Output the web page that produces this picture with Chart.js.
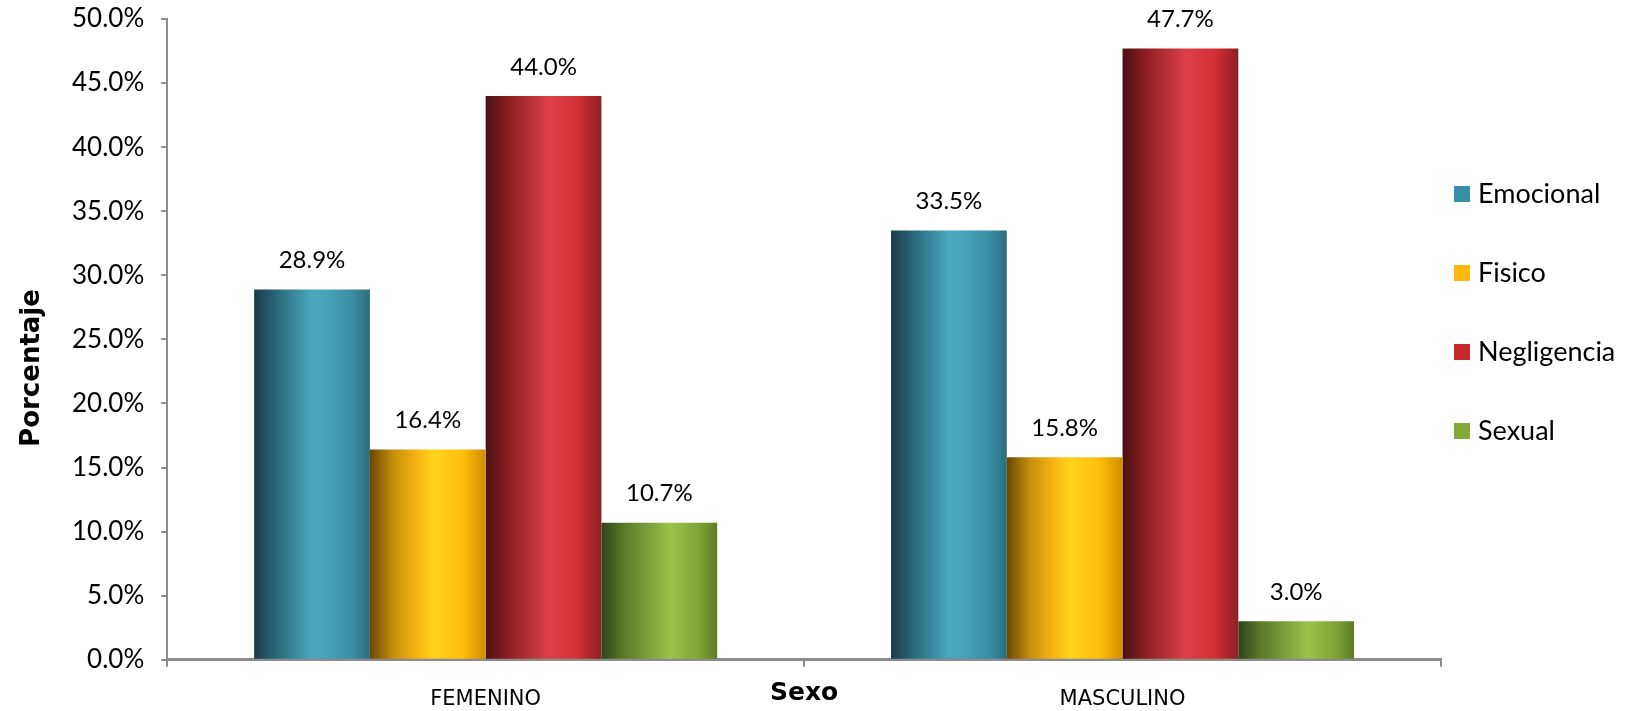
<!DOCTYPE html>
<html>
<head>
<meta charset="utf-8">
<title>Tipo de maltrato por sexo</title>
<script src="https://cdn.jsdelivr.net/npm/chart.js@4.4.1/dist/chart.umd.min.js"></script>
<style>
  html, body { margin: 0; padding: 0; background: #fff; }
  #wrap { width: 1647px; height: 711px; }
</style>
</head>
<body>
<div id="wrap"><canvas id="chart" width="1647" height="711"></canvas></div>
<script>
// Data
const categories = ['FEMENINO', 'MASCULINO'];
const seriesNames = ['Emocional', 'Fisico', 'Negligencia', 'Sexual'];
const emocional = [28.9, 33.5];
const fisico = [16.4, 15.8];
const negligencia = [44.0, 47.7];
const sexual = [10.7, 3.0];
const yMax = 50;
const yStep = 5;

// Colours: flat colour for the legend, stops for the bar shading
const legendColors = ['#3790a6', '#ffb80b', '#c42a2e', '#84a936'];
const gradientStops = [
    [[0, '#1a3a46'], [0.2, '#2a6a7b'], [0.5, '#4aa7bf'], [0.62, '#47a3bb'], [0.85, '#3a8ea4'], [1, '#2c6c7c']],
    [[0, '#6a4800'], [0.2, '#c58f0c'], [0.4, '#f7b313'], [0.55, '#ffd21e'], [0.8, '#ffbe0c'], [1, '#d08f00']],
    [[0, '#4a1012'], [0.2, '#8c1f23'], [0.55, '#de4046'], [0.8, '#d12f33'], [1, '#8a2024']],
    [[0, '#2f4418'], [0.2, '#5b7b2a'], [0.6, '#9cc24a'], [0.85, '#7fa236'], [1, '#5e7b27']]
];

const axisGrey = '#8c8c8c';
const textFont = 'Lato';

// Horizontal cylinder-like shading on each bar
const barShading = {
    id: 'barShading',
    beforeDatasetsDraw(chart) {
        const ctx = chart.ctx;
        chart.data.datasets.forEach((ds, i) => {
            const meta = chart.getDatasetMeta(i);
            meta.data.forEach(el => {
                const g = ctx.createLinearGradient(el.x - el.width / 2, 0, el.x + el.width / 2, 0);
                gradientStops[i].forEach(s => g.addColorStop(s[0], s[1]));
                el.options = Object.assign({}, el.options, { backgroundColor: g });
            });
        });
    }
};

// Value labels above the bars
const valueLabels = {
    id: 'valueLabels',
    afterDatasetsDraw(chart) {
        const ctx = chart.ctx;
        ctx.save();
        ctx.font = '24px ' + textFont;
        ctx.fillStyle = '#000';
        ctx.textAlign = 'center';
        ctx.textBaseline = 'middle';
        chart.data.datasets.forEach((ds, i) => {
            chart.getDatasetMeta(i).data.forEach((el, j) => {
                ctx.fillText(ds.data[j].toFixed(1) + '%', el.x, el.y - 29);
            });
        });
        ctx.restore();
    }
};

// Y axis title and legend on the right
const sideText = {
    id: 'sideText',
    afterDraw(chart) {
        const ctx = chart.ctx;
        ctx.save();
        ctx.fillStyle = '#000';
        ctx.font = 'bold 26px "DejaVu Sans"';
        ctx.textAlign = 'center';
        ctx.textBaseline = 'middle';
        ctx.translate(32, 368);
        ctx.rotate(-Math.PI / 2);
        ctx.fillText('Porcentaje', 0, 0);
        ctx.restore();

        ctx.save();
        ctx.font = '27px ' + textFont;
        ctx.textAlign = 'left';
        ctx.textBaseline = 'middle';
        chart.data.datasets.forEach((ds, i) => {
            const y = 194 + i * 79;
            ctx.fillStyle = ds.legendColor;
            ctx.fillRect(1454, y - 8, 16, 16);
            ctx.fillStyle = '#000';
            ctx.fillText(ds.label, 1478, y);
        });
        ctx.restore();
    }
};

const seriesData = [emocional, fisico, negligencia, sexual];

new Chart(document.getElementById('chart').getContext('2d'), {
    type: 'bar',
    data: {
        labels: categories,
        datasets: seriesNames.map((name, i) => ({
            label: name,
            data: seriesData[i],
            backgroundColor: legendColors[i],
            legendColor: legendColors[i],
            borderWidth: 0,
            categoryPercentage: 0.727,
            barPercentage: 1.0
        }))
    },
    options: {
        responsive: false,
        animation: false,
        devicePixelRatio: 1,
        layout: { padding: { left: 55, right: 206, top: 19, bottom: 0 } },
        plugins: {
            legend: { display: false },
            tooltip: { enabled: false }
        },
        scales: {
            x: {
                grid: { offset: true, drawOnChartArea: false, tickLength: 7, color: axisGrey, lineWidth: 2 },
                border: { color: axisGrey, width: 3 },
                ticks: { color: '#000', font: { family: 'DejaVu Sans', size: 21 }, padding: 20 },
                title: {
                    display: true,
                    text: 'Sexo',
                    color: '#000',
                    font: { family: 'DejaVu Sans', size: 25, weight: 'bold' },
                    padding: { top: -54, bottom: 3 }
                }
            },
            y: {
                min: 0,
                max: yMax,
                grid: { drawOnChartArea: false, tickLength: 6, color: axisGrey, lineWidth: 2 },
                border: { color: axisGrey, width: 2 },
                ticks: {
                    stepSize: yStep,
                    color: '#000',
                    padding: 17,
                    font: { family: textFont, size: 26 },
                    callback: v => v.toFixed(1) + '%'
                },
                // the end labels may overhang the plot; don't let them push it inward
                afterFit: scale => {
                    scale.paddingTop = 0;
                    scale.paddingBottom = 0;
                }
            }
        }
    },
    plugins: [barShading, valueLabels, sideText]
});
</script>
</body>
</html>
